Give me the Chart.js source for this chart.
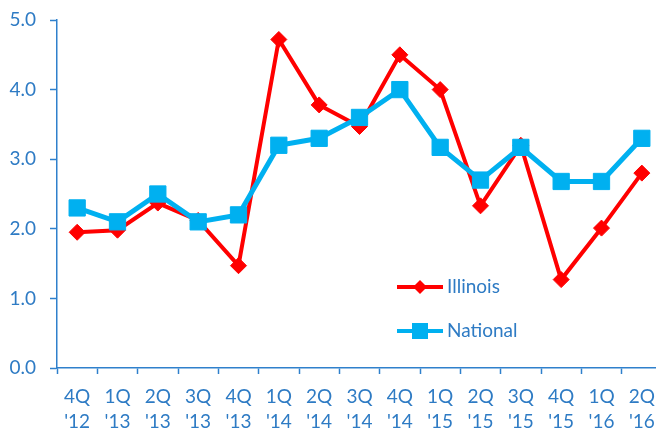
<!DOCTYPE html>
<html>
<head>
<meta charset="utf-8">
<script src="https://cdn.jsdelivr.net/npm/chart.js@4.4.1/dist/chart.umd.min.js"></script>
<style>
    html, body { margin: 0; padding: 0; background: #ffffff; overflow: hidden; }
    #wrap { width: 656px; height: 432px; overflow: hidden; }
</style>
</head>
<body>
<div id="wrap">
    <canvas id="goo" width="662" height="432"></canvas>
</div>
<script>
let quarters = ['4Q', '1Q', '2Q', '3Q', '4Q', '1Q', '2Q', '3Q', '4Q', '1Q', '2Q', '3Q', '4Q', '1Q', '2Q'];
let years = ["'12", "'13", "'13", "'13", "'13", "'14", "'14", "'14", "'14", "'15", "'15", "'15", "'15", "'16", "'16"];

let illinois = [1.95, 1.98, 2.37, 2.12, 1.47, 4.72, 3.78, 3.47, 4.50, 4.00, 2.33, 3.20, 1.27, 2.01, 2.80];
let national = [2.30, 2.10, 2.50, 2.10, 2.20, 3.20, 3.30, 3.60, 4.00, 3.17, 2.70, 3.17, 2.68, 2.68, 3.30];

let yTicks = [0, 1, 2, 3, 4, 5];

let labels = [];
for (let i = 0; i < quarters.length; i++) {
    labels.push([quarters[i], years[i]]);
}

let textBlue = '#2E7BC4';
let axisBlue = '#2F80CC';
let fontFam = 'Lato, "Open Sans", sans-serif';

// legend drawn inside the plot, like the original
let insideLegend = {
    id: 'insideLegend',
    afterDraw: function(chart) {
        let c = chart.ctx;
        let items = [
            { ds: chart.data.datasets[0], y: 287 },
            { ds: chart.data.datasets[1], y: 331 }
        ];
        c.save();
        items.forEach(function(it) {
            c.strokeStyle = it.ds.borderColor;
            c.lineWidth = 4;
            c.beginPath();
            c.moveTo(397, it.y);
            c.lineTo(443, it.y);
            c.stroke();
            c.fillStyle = it.ds.borderColor;
            c.beginPath();
            if (it.ds.pointStyle == 'rectRot') {
                c.moveTo(420, it.y - 7);
                c.lineTo(427, it.y);
                c.lineTo(420, it.y + 7);
                c.lineTo(413, it.y);
                c.closePath();
            } else {
                c.rect(412, it.y - 8, 16, 16);
            }
            c.fill();
            c.fillStyle = textBlue;
            c.font = '19px ' + fontFam;
            c.textAlign = 'left';
            c.textBaseline = 'middle';
            c.fillText(it.ds.label, 447, it.y);
        });
        c.restore();
    }
};

var ctx = document.getElementById("goo").getContext('2d');
var goo = new Chart(ctx, {
    type: 'line',
    data: {
        labels: labels,
        datasets: [{
            label: 'Illinois',
            data: illinois,
            borderColor: '#FF0000',
            backgroundColor: '#FF0000',
            borderWidth: 4,
            pointStyle: 'rectRot',
            pointRadius: 8,
            pointBorderWidth: 1,
            tension: 0,
            clip: false,
            order: 2
        }, {
            label: 'National',
            data: national,
            borderColor: '#00B0F0',
            backgroundColor: '#00B0F0',
            borderWidth: 5,
            pointStyle: 'rect',
            pointRadius: 11.5,
            pointBorderWidth: 1,
            tension: 0,
            clip: false,
            order: 1
        }]
    },
    options: {
        responsive: false,
        animation: false,
        layout: { autoPadding: false, padding: { top: 20, right: 0, left: 0, bottom: 0 } },
        plugins: {
            legend: { display: false },
            tooltip: { enabled: false }
        },
        scales: {
            x: {
                offset: true,
                grid: {
                    offset: true,
                    drawOnChartArea: false,
                    drawTicks: true,
                    tickLength: 6,
                    tickColor: axisBlue,
                    tickWidth: 1.5
                },
                border: { color: axisBlue, width: 1.5 },
                ticks: {
                    color: textBlue,
                    font: { family: fontFam, size: 19, lineHeight: 1.3 },
                    padding: 11,
                    maxRotation: 0,
                    autoSkip: false
                },
                afterFit: function(scale) {
                    scale.height = 64;
                    scale.paddingLeft = 0;
                    scale.paddingRight = 0;
                }
            },
            y: {
                min: 0,
                max: 5,
                afterBuildTicks: function(scale) {
                    scale.ticks = yTicks.map(function(v) { return { value: v }; });
                },
                grid: {
                    drawOnChartArea: false,
                    drawTicks: true,
                    tickLength: 7,
                    tickColor: axisBlue,
                    tickWidth: 1.5
                },
                border: { color: axisBlue, width: 1.5 },
                ticks: {
                    color: textBlue,
                    font: { family: fontFam, size: 19 },
                    padding: 14,
                    callback: function(v) { return Number(v).toFixed(1); }
                },
                afterFit: function(scale) {
                    scale.width = 57;
                    scale.paddingTop = 0;
                    scale.paddingBottom = 0;
                }
            }
        }
    },
    plugins: [insideLegend]
});
</script>
</body>
</html>
